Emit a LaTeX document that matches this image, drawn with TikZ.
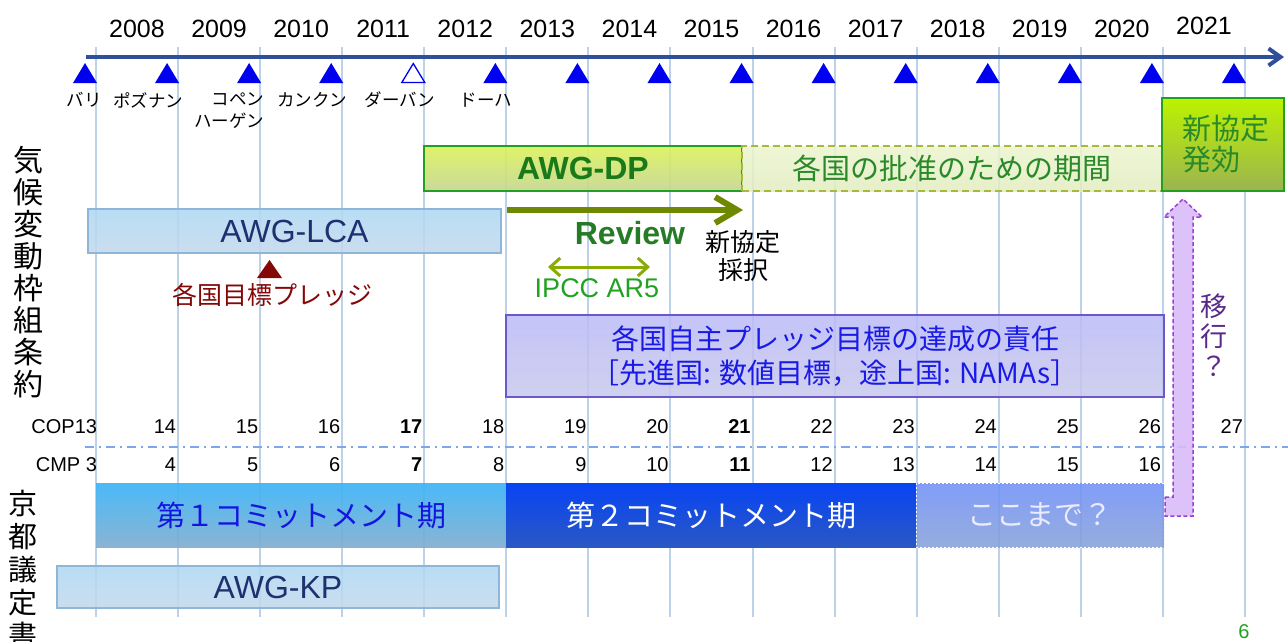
\documentclass[tikz,border=0pt]{standalone}
\usepackage{fontspec}
\setmainfont{Liberation Sans}
\newfontfamily\jp{Noto Sans CJK JP}
\usetikzlibrary{arrows.meta}
\definecolor{gridc}{HTML}{BCD2E8}
\definecolor{tlc}{HTML}{2F4F9A}
\definecolor{tric}{HTML}{0000F0}
\definecolor{dptop}{HTML}{DCF25A}
\definecolor{dpbot}{HTML}{C4D690}
\definecolor{dpborder}{HTML}{22A022}
\definecolor{dptext}{HTML}{1A7A1A}
\definecolor{ratop}{HTML}{EDF5CF}
\definecolor{rabot}{HTML}{E2EDC0}
\definecolor{raborder}{HTML}{A8B838}
\definecolor{gtext}{HTML}{2A8A2A}
\definecolor{nstop}{HTML}{BCF200}
\definecolor{nsbot}{HTML}{9CB450}
\definecolor{lbtop}{HTML}{ADD8F4}
\definecolor{lbbot}{HTML}{C2D8EC}
\definecolor{lbborder}{HTML}{8EB6D8}
\definecolor{awgtext}{HTML}{1F3070}
\definecolor{redc}{HTML}{850808}
\definecolor{olive}{HTML}{6E8800}
\definecolor{ipccarrow}{HTML}{8AAC00}
\definecolor{ptop}{HTML}{BABAF8}
\definecolor{pbot}{HTML}{C8C8EC}
\definecolor{pborder}{HTML}{6A58CC}
\definecolor{ptext}{HTML}{1A1AE6}
\definecolor{dashc}{HTML}{7EA6EC}
\definecolor{ktop}{HTML}{3CB4F8}
\definecolor{kbot}{HTML}{80AED0}
\definecolor{ktext}{HTML}{1515E0}
\definecolor{ktwotop}{HTML}{0844F4}
\definecolor{ktwobot}{HTML}{2A58C4}
\definecolor{qtop}{HTML}{7090F8}
\definecolor{qbot}{HTML}{88A2D8}
\definecolor{migfill}{HTML}{D9BCF9}
\definecolor{migborder}{HTML}{9A3FD8}
\definecolor{migtext}{HTML}{5A2A8A}
\tikzset{
  gridline/.style={draw=gridc, line width=2pt},
  tri/.style={fill=tric},
  boxstyle/.style={draw, inner sep=0pt, outer sep=0pt, text opacity=1, align=center},
  lbl/.style={inner sep=0pt, outer sep=0pt, align=center},
  num/.style={inner sep=0pt, outer sep=0pt, anchor=east, font=\fontsize{20}{22}\selectfont},
  jpsmall/.style={lbl, font=\jp\fontsize{17.5}{22}\selectfont},
}
\begin{document}
\begin{tikzpicture}[x=1pt,y=-1pt]
\useasboundingbox (0,0) rectangle (1288,641);
\fill[white] (0,0) rectangle (1288,641);

% grid lines
\foreach \k in {0,...,14} {
  \draw[gridline] ({96+82.07*\k},47) -- ({96+82.07*\k},617);
}

% timeline
\coordinate (tlA) at (86,57);
\coordinate (tlB) at (1284,57);
\draw[tlc, line width=4pt, -{Straight Barb[length=12pt,width=17pt]}] (tlA) -- (tlB);

% years
\foreach \k/\y in {0/2008,1/2009,2/2010,3/2011,4/2012,5/2013,6/2014,7/2015,8/2016,9/2017,10/2018,11/2019,12/2020} {
  \node[lbl, font=\fontsize{25}{28}\selectfont] (yr\k) at ({137+82.07*\k},29) {\y};
}
\node[lbl, font=\fontsize{25}{28}\selectfont] (yr13) at (1204,26) {2021};

% triangles
\foreach \k in {0,1,2,3,5,6,...,14} {
  \pgfmathsetmacro{\cx}{96+82.07*\k-11}
  \fill[tri] (\cx-12,83) -- (\cx,63) -- (\cx+12,83) -- cycle;
}
\pgfmathsetmacro{\cxo}{96+82.07*4-11}
\draw[tric, line width=1.3pt, fill=white] (\cxo-11.5,82.5) -- (\cxo,63.5) -- (\cxo+11.5,82.5) -- cycle;

% venue labels
\node[jpsmall] (bali) at (84,100) {バリ};
\node[jpsmall] (pozn) at (148,100) {ポズナン};
\node[jpsmall, anchor=east, align=right] (cope) at (264,111) {コペン\\ハーゲン};
\node[jpsmall] (canc) at (312,100) {カンクン};
\node[jpsmall] (durb) at (400,100) {ダーバン};
\node[jpsmall] (doha) at (486,100) {ドーハ};

% left vertical labels
\node[lbl, font=\jp\fontsize{30}{32}\selectfont] (unfccc) at (28,272) {気\\候\\変\\動\\枠\\組\\条\\約};
\node[lbl, font=\jp\fontsize{29}{33}\selectfont] (kyoto) at (23,569) {京\\都\\議\\定\\書};

% AWG-DP
\node[boxstyle, draw=dpborder, line width=1.5pt, top color=dptop, bottom color=dpbot, fill opacity=0.9,
  minimum width=318pt, minimum height=45pt, font=\bfseries\fontsize{32}{36}\selectfont, text=dptext] (dp) at (583,168.5) {AWG-DP};
% ratification period
\node[boxstyle, draw=raborder, line width=1.5pt, dash pattern=on 7pt off 4pt, top color=ratop, bottom color=rabot, fill opacity=0.85,
  minimum width=420pt, minimum height=45pt, font=\jp\fontsize{29}{32}\selectfont, text=gtext] (ratif) at (952,168.5) {各国の批准のための期間};
% new agreement in force
\node[boxstyle, draw=dpborder, line width=1.5pt, top color=nstop, bottom color=nsbot,
  minimum width=122pt, minimum height=93pt] (nsbox) at (1223,144.5) {};
\node[lbl, anchor=west, align=left, font=\jp\fontsize{29}{31}\selectfont, text=gtext] (nstext) at (1182,144.5) {新協定\\発効};

% AWG-LCA
\node[boxstyle, draw=lbborder, line width=1.5pt, top color=lbtop, bottom color=lbbot, fill opacity=0.85,
  minimum width=413pt, minimum height=44pt, font=\fontsize{32}{36}\selectfont, text=awgtext] (lca) at (294.5,231) {AWG-LCA};

% pledge triangle
\fill[redc] (257,278) -- (269.5,260) -- (282,278) -- cycle;
\node[lbl, font=\jp\fontsize{25}{28}\selectfont, text=redc] (pledge) at (272,295) {各国目標プレッジ};

% Review arrow
\coordinate (rvA) at (507,210);
\coordinate (rvB) at (743,210);
\draw[olive, line width=6pt, -{Straight Barb[length=22pt,width=26pt]}] (rvA) -- (rvB);
\node[lbl, font=\bfseries\fontsize{32}{36}\selectfont, text=gtext!90!black] (review) at (630,233) {Review};
\node[lbl, font=\jp\fontsize{25}{28}\selectfont] (adopt) at (743,256) {新協定\\採択};

% IPCC AR5
\coordinate (ipA) at (548,267);
\coordinate (ipB) at (650,267);
\draw[ipccarrow, line width=3pt, {Straight Barb[length=10pt,width=18pt]}-{Straight Barb[length=10pt,width=18pt]}] (ipA) -- (ipB);
\node[lbl, font=\fontsize{27}{30}\selectfont, text=gtext!80!green] (ipcc) at (597,288) {IPCC AR5};

% pledge responsibility box
\node[boxstyle, draw=pborder, line width=1.5pt, top color=ptop, bottom color=pbot, fill opacity=0.85,
  minimum width=658pt, minimum height=82pt, font=\jp\fontsize{28}{34}\selectfont, text=ptext] (resp) at (835,356)
  {各国自主プレッジ目標の達成の責任\\［先進国: 数値目標，途上国: NAMAs］};

% COP / CMP rows
\node[num] (cop) at (97,427) {COP13};
\node[num] (cmp) at (97,465) {CMP 3};
\foreach \k/\t in {1/14,2/15,3/16,4/{\textbf{17}},5/18,6/19,7/20,8/{\textbf{21}},9/22,10/23,11/24,12/25,13/26,14/27} {
  \node[num] (cop\k) at ({96+82.07*\k-2},427) {\t};
}
\foreach \k/\t in {1/4,2/5,3/6,4/{\textbf{7}},5/8,6/9,7/10,8/{\textbf{11}},9/12,10/13,11/14,12/15,13/16} {
  \node[num] (cmp\k) at ({96+82.07*\k-2},465) {\t};
}
\coordinate (dlA) at (85,447);
\coordinate (dlB) at (1288,447);
\draw[dashc, line width=1.5pt, dash pattern=on 9pt off 5pt on 2pt off 5pt] (dlA) -- (dlB);

% commitment periods
\node[boxstyle, draw=none, top color=ktop, bottom color=kbot, fill opacity=0.92,
  minimum width=410pt, minimum height=64pt, font=\jp\fontsize{29}{32}\selectfont, text=ktext] (cp1) at (301,515) {第１コミットメント期};
\node[boxstyle, draw=none, top color=ktwotop, bottom color=ktwobot,
  minimum width=410pt, minimum height=64pt, font=\jp\fontsize{29}{32}\selectfont, text=white] (cp2) at (711,515) {第２コミットメント期};
\node[boxstyle, draw=white, line width=1pt, dash pattern=on 2pt off 2pt, top color=qtop, bottom color=qbot, fill opacity=0.88,
  minimum width=248pt, minimum height=64pt, font=\jp\fontsize{29}{32}\selectfont, text=white!92!blue] (cp3) at (1040,515) {ここまで？};

% AWG-KP
\node[boxstyle, draw=lbborder, line width=1.5pt, top color=lbtop, bottom color=lbbot, fill opacity=0.85,
  minimum width=442pt, minimum height=42pt, font=\fontsize{32}{36}\selectfont, text=awgtext] (kp) at (278,587) {AWG-KP};

% migration arrow
\draw[migborder, fill=migfill, fill opacity=0.9, line width=1.5pt, dash pattern=on 4pt off 2.5pt]
  (1165,497) -- (1173,497) -- (1173,217) -- (1164,217) -- (1183,199) -- (1202,217) -- (1193,217) -- (1193,516) -- (1165,516) -- cycle;
\node[lbl, font=\jp\fontsize{27}{30}\selectfont, text=migtext] (migr) at (1214,335) {移\\行\\？};

% page number
\node[lbl, font=\fontsize{20}{22}\selectfont, text=gtext!80!green] (pagenum) at (1244,632) {6};
\end{tikzpicture}
\end{document}
